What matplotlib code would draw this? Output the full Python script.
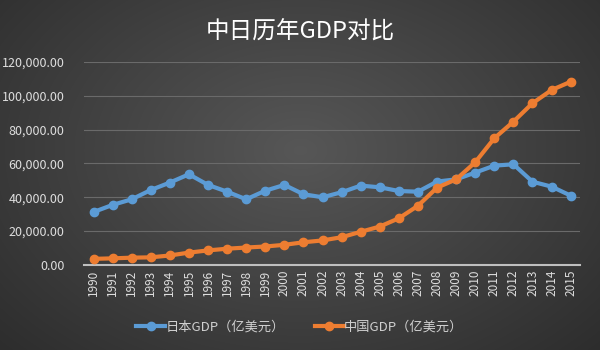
import numpy as np
import matplotlib
matplotlib.use("Agg")
import matplotlib.pyplot as plt
from matplotlib.ticker import FuncFormatter

plt.rcParams['font.family'] = ['Noto Sans CJK SC', 'DejaVu Sans']

years = [str(y) for y in range(1990, 2016)]
japan_gdp = [31300, 35500, 38800, 44300, 48700, 53600, 47300, 43300, 38800, 43900,
             47300, 41800, 40000, 43000, 46900, 45900, 43700, 43300, 49300, 50600,
             54600, 58700, 59500, 49200, 46300, 41000]
china_gdp = [3600, 3900, 4300, 4500, 5600, 7300, 8600, 9600, 10300, 10900,
             11900, 13400, 14500, 16400, 19600, 22700, 27600, 35000, 45700, 50600,
             60700, 74900, 84700, 95600, 103400, 108300]
title = "中日历年GDP对比"
japan_label = "日本GDP（亿美元）"
china_label = "中国GDP（亿美元）"

fig = plt.figure(figsize=(6, 3.5), dpi=100)

# background radial gradient
bg = fig.add_axes([0, 0, 1, 1], zorder=-10)
yy, xx = np.mgrid[0:350, 0:600]
d = np.sqrt(((xx - 300) / 330.0) ** 2 + ((yy - 150) / 230.0) ** 2)
val = np.clip(0.34 - 0.13 * d, 0.17, 0.34)
img = np.dstack([val, val, val])
bg.imshow(img, aspect='auto', extent=[0, 1, 0, 1])
bg.axis('off')

ax = fig.add_axes([0.14, 0.243, 0.827, 0.58])
ax.set_facecolor('none')
x = np.arange(len(years))
ax.plot(x, japan_gdp, color='#5B9BD5', lw=3, marker='o', ms=6, label=japan_label, zorder=3)
ax.plot(x, china_gdp, color='#ED7D31', lw=3, marker='o', ms=6, label=china_label, zorder=4)

ax.set_xlim(-0.5, len(years) - 0.5)
ax.set_ylim(0, 120000)
ax.set_yticks(np.arange(0, 120001, 20000))
ax.yaxis.set_major_formatter(FuncFormatter(lambda v, p: f"{v:,.2f}"))
ax.set_xticks(x)
ax.set_xticklabels(years, rotation=90)
ax.grid(axis='y', color='#6a6a6a', lw=0.8)
ax.set_axisbelow(True)
for s in ['top', 'right', 'left']:
    ax.spines[s].set_visible(False)
ax.spines['bottom'].set_color('#bfbfbf')
ax.spines['bottom'].set_linewidth(1.5)
ax.tick_params(axis='both', length=0, colors='#dedede')
ax.tick_params(axis='y', pad=14, labelsize=9)
ax.tick_params(axis='x', labelsize=8.5)

fig.text(0.5, 0.909, title, ha='center', va='center', color='white', fontsize=17)

leg = fig.legend(loc='center', bbox_to_anchor=(0.5, 0.066), ncol=2, frameon=False,
                 fontsize=9.5, labelcolor='#d0d0d0', handlelength=2.2, columnspacing=2.2,
                 handletextpad=0.05)

fig.savefig('out.png', dpi=100, facecolor='#3a3a3a')
